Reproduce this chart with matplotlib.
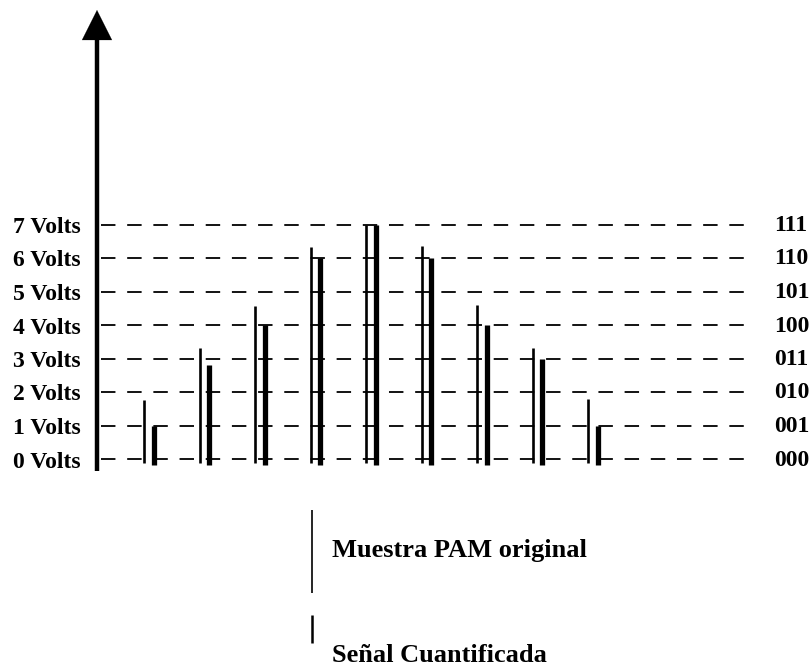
import matplotlib
matplotlib.use("Agg")
import matplotlib.pyplot as plt
import numpy as np

# ---- data ----
samples = [0, 1, 2, 3, 4, 5, 6, 7, 8]
original = [1.75, 3.3, 4.57, 6.33, 7.0, 6.36, 4.6, 3.3, 1.8]
quantized = [1.0, 2.8, 4.0, 6.0, 7.0, 6.0, 4.0, 3.0, 1.0]
levels = [0, 1, 2, 3, 4, 5, 6, 7]
left_labels = ["0 Volts", "1 Volts", "2 Volts", "3 Volts", "4 Volts", "5 Volts", "6 Volts", "7 Volts"]
right_labels = ["000", "001", "010", "011", "100", "101", "110", "111"]
legend_labels = ["Muestra PAM original", "Señal Cuantificada"]

W, H = 811, 667
fig = plt.figure(figsize=(W / 100, H / 100), dpi=100)
ax = fig.add_axes([0, 0, 1, 1])
ax.set_axis_off()

# pixel -> data mapping constants
x0px, dxpx = 144.0, 55.5
y0px, dypx = 459.0, 33.5
ax.set_xlim((0 - x0px) / dxpx, (W - x0px) / dxpx)
ax.set_ylim((y0px - H) / dypx, (y0px - 0) / dypx)

def px_x(p):
    return (p - x0px) / dxpx

def px_y(p):
    return (y0px - p) / dypx

font = dict(family=["Liberation Serif", "DejaVu Serif"], fontweight="bold")

# dashed level lines
for lv in levels:
    ax.plot([px_x(101), px_x(755)], [lv, lv], color="black", lw=1.3,
            dashes=(8, 6.5), solid_capstyle="butt")

# vertical axis with arrow
axis_x = px_x(97)
ax.plot([axis_x, axis_x], [px_y(471), px_y(36)], color="black", lw=3.2,
        solid_capstyle="butt")
ax.annotate("", xy=(axis_x, px_y(10)), xytext=(axis_x, px_y(42)),
            arrowprops=dict(arrowstyle="-|>,head_length=2.15,head_width=1.08",
                            color="black", lw=0.1, shrinkA=0, shrinkB=0))

# samples
off = 9.5 / dxpx
ax.vlines(samples, px_y(463), original, color="black", lw=1.9)
ax.vlines(np.array(samples) + off, px_y(465), quantized, color="black", lw=3.8)

# labels
shift = 3.0 / dypx
for lv, lab in zip(levels, left_labels):
    ax.text(px_x(81), lv - shift, lab, ha="right", va="center", fontsize=17, **font)
for lv, lab in zip(levels, right_labels):
    ax.text(px_x(774), lv - 1.0 / dypx, lab, ha="left", va="center", fontsize=17, **font)

# legend
lx = px_x(312)
ax.vlines([lx], px_y(593), px_y(510), color="black", lw=1.2)
ax.vlines([lx], px_y(643), px_y(615), color="black", lw=1.8)
ax.text(px_x(332), px_y(550), legend_labels[0], ha="left", va="center",
        fontsize=19, **font)
ax.text(px_x(332), px_y(656), legend_labels[1], ha="left", va="center",
        fontsize=19, **font)

fig.savefig("out.png", dpi=100, facecolor="white")
